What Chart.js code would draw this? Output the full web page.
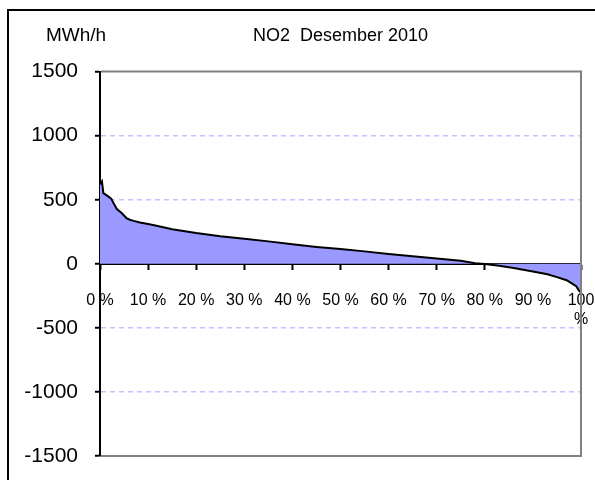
<!DOCTYPE html>
<html>
<head>
<meta charset="utf-8">
<script src="https://cdn.jsdelivr.net/npm/chart.js@4.4.1/dist/chart.umd.min.js"></script>
<style>
  html, body { margin: 0; padding: 0; background: #ffffff; }
  #wrap { width: 595px; height: 480px; position: relative; }
</style>
</head>
<body>
<div id="wrap"><canvas id="c" width="595" height="480"></canvas></div>
<script>
// ---- data ----
const chartTitle = 'NO2  Desember 2010';
const unitLabel = 'MWh/h';
const durationPct = [0, 0.4, 0.7, 1.7, 2.4, 2.8, 3.5, 4.5, 5.5, 6.2, 7, 8.3, 10, 12, 15, 20, 25, 30, 35, 40, 45, 50, 55, 60, 65, 70, 75, 78, 80, 83, 86, 90, 93, 95, 97, 98, 99, 99.5, 100];
const flowMWh =     [620, 643, 552, 526, 505, 474, 427, 396, 357, 344, 335, 322, 310, 295, 270, 240, 215, 195, 175, 152, 132, 115, 97, 76, 58, 42, 23, 5, -2, -15, -32, -60, -82, -104, -128, -151, -175, -205, -225];
const xTickValues = [0, 10, 20, 30, 40, 50, 60, 70, 80, 90, 100];
const yTickValues = [-1500, -1000, -500, 0, 500, 1000, 1500];

const points = durationPct.map((p, i) => ({ x: p, y: flowMWh[i] }));
const FONT = "'Liberation Sans', Arial, sans-serif";

const framePlugin = {
  id: 'frame',
  beforeDraw(chart) {
    const ctx = chart.ctx;
    ctx.save();
    ctx.fillStyle = '#ffffff';
    ctx.fillRect(0, 0, chart.width, chart.height);
    ctx.strokeStyle = '#000000';
    ctx.lineWidth = 2;
    ctx.strokeRect(8, 10, 700, 600);
    ctx.restore();
  },
  afterDraw(chart) {
    const ctx = chart.ctx;
    const a = chart.chartArea;
    ctx.save();
    ctx.strokeStyle = '#808080';
    ctx.lineWidth = 2;
    ctx.beginPath();
    ctx.moveTo(a.left + 1, a.top);
    ctx.lineTo(a.right, a.top);
    ctx.lineTo(a.right, a.bottom);
    ctx.lineTo(a.left + 1, a.bottom);
    ctx.stroke();
    ctx.fillStyle = '#000000';
    ctx.font = '19px ' + FONT;
    ctx.textAlign = 'left';
    ctx.textBaseline = 'middle';
    ctx.fillText(unitLabel, 46, 36);
    ctx.restore();
  }
};

new Chart(document.getElementById('c'), {
  type: 'line',
  data: {
    datasets: [{
      data: points,
      borderColor: '#000000',
      borderWidth: 2,
      backgroundColor: '#9999ff',
      fill: 'origin',
      pointRadius: 0,
      tension: 0
    }]
  },
  options: {
    responsive: false,
    animation: false,
    events: [],
    layout: { padding: { left: 0, right: 14, top: 0, bottom: 24 } },
    plugins: {
      legend: { display: false },
      tooltip: { enabled: false },
      title: {
        display: true,
        text: chartTitle,
        fullSize: false,
        color: '#000000',
        font: { family: FONT, size: 18, weight: 'normal' },
        padding: { top: 25, bottom: 25 }
      }
    },
    scales: {
      x: {
        type: 'linear',
        min: 0,
        max: 100,
        position: { y: 0 },
        z: 1,
        afterBuildTicks(scale) { scale.ticks = xTickValues.map(v => ({ value: v })); },
        afterFit(scale) { scale.paddingLeft = 0; scale.paddingRight = 0; scale.paddingTop = 0; scale.paddingBottom = 0; },
        ticks: {
          autoSkip: false,
          maxRotation: 0,
          padding: 22,
          color: '#000000',
          font: { family: FONT, size: 16 },
          callback: (v) => v === 100 ? ['100', '%'] : v + ' %'
        },
        grid: {
          drawOnChartArea: false,
          drawTicks: true,
          tickLength: 5,
          tickColor: '#000000',
          tickWidth: 2
        },
        border: { display: true, color: '#000000', width: 2 }
      },
      y: {
        type: 'linear',
        min: -1500,
        max: 1500,
        z: 1,
        afterFit(scale) { scale.width = 100; scale.paddingTop = 0; scale.paddingBottom = 0; },
        afterBuildTicks(scale) { scale.ticks = yTickValues.map(v => ({ value: v })); },
        ticks: {
          padding: 17,
          color: '#000000',
          font: { family: FONT, size: 21 },
          callback: (v) => String(v)
        },
        grid: {
          color: (ctx) => {
            const v = ctx.tick ? ctx.tick.value : null;
            return (v === 1000 || v === 500 || v === -500 || v === -1000) ? '#c4c4ff' : 'rgba(0,0,0,0)';
          },
          lineWidth: 1.5,
          tickLength: 5,
          tickColor: '#000000',
          tickWidth: 2,
          tickBorderDash: []
        },
        border: { display: true, color: '#000000', width: 2, dash: [5, 4] }
      }
    }
  },
  plugins: [framePlugin]
});
</script>
</body>
</html>
